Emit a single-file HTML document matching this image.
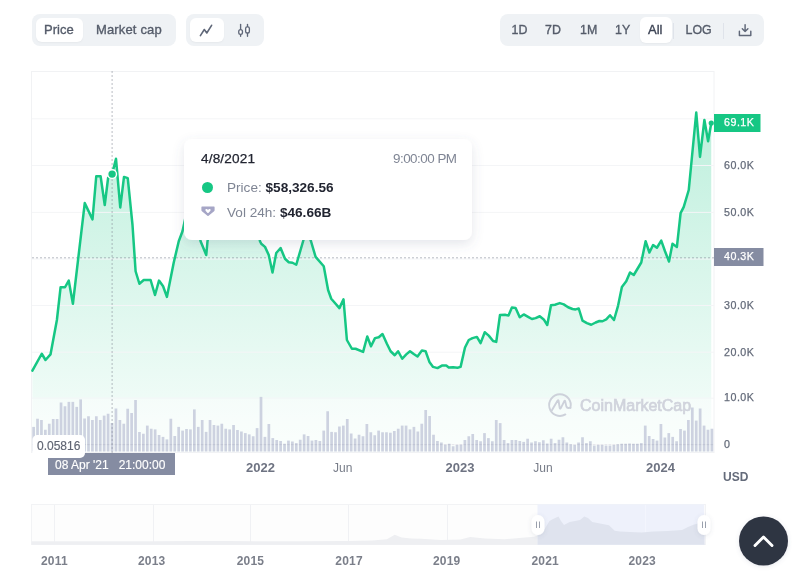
<!DOCTYPE html>
<html><head><meta charset="utf-8">
<style>
*{box-sizing:border-box;margin:0;padding:0}
html,body{width:800px;height:585px;overflow:hidden;background:#fff}
body{position:relative;font-family:"Liberation Sans",Arial,sans-serif;color:#58667e}
.abs{position:absolute}
.grp{position:absolute;top:14px;height:32px;background:#eff2f5;border-radius:8px}
.pill{position:absolute;top:3.5px;height:25px;background:#fff;border-radius:6px;box-shadow:0 1px 2px rgba(0,0,0,0.04)}
.bt{position:absolute;top:0;height:32px;line-height:32px;font-size:13px;font-weight:400;-webkit-text-stroke:0.35px currentColor;color:#555c6a;white-space:nowrap}
.sep{position:absolute;top:9px;width:1px;height:16px;background:#dfe3ea}
.yl{position:absolute;left:724px;font-size:10.7px;line-height:12px;color:#646b7a;letter-spacing:0.5px;-webkit-text-stroke:0.25px currentColor;white-space:nowrap}
.xl{position:absolute;top:460.5px;font-size:12px;line-height:14px;color:#6e7382;white-space:nowrap}
.xb{font-weight:700;font-size:13px}
.nl{position:absolute;top:554px;font-size:12px;line-height:14px;font-weight:700;color:#7b7f8a;letter-spacing:0.2px;white-space:nowrap}
svg{position:absolute;left:0;top:0}
</style></head><body>
<svg width="800" height="585" viewBox="0 0 800 585">
 <defs>
  <linearGradient id="gf" x1="0" y1="112" x2="0" y2="452" gradientUnits="userSpaceOnUse">
   <stop offset="0" stop-color="#16c784" stop-opacity="0.28"/>
   <stop offset="1" stop-color="#16c784" stop-opacity="0.03"/>
  </linearGradient>
  <filter id="sh" x="-20%" y="-30%" width="140%" height="170%">
   <feDropShadow dx="0" dy="4" stdDeviation="6" flood-color="#58667e" flood-opacity="0.16"/>
  </filter>
  <filter id="sh2" x="-30%" y="-30%" width="160%" height="160%">
   <feDropShadow dx="0" dy="1" stdDeviation="2" flood-color="#58667e" flood-opacity="0.15"/>
  </filter>
 </defs>
 <!-- chart frame -->
 <rect x="31.5" y="71.5" width="682.5" height="381" fill="#fff" stroke="#f1f2f4" stroke-width="1"/>
 <!-- fill -->
 <path d="M32.4,370.6 L41.75,353.75 L45.5,360 L50.5,354.4 L56.9,320 L60.6,287.25 L65,287.25 L68.75,280.6 L72.9,303.75 L84.75,203.1 L92.5,219.4 L96.25,176.25 L100.6,176.25 L104.75,205 L108.1,178 L112.1,174.1 L116,158.75 L120.25,207.5 L124,176.9 L127.75,178.1 L132.5,225 L135.6,271.25 L139.4,283.75 L143.75,280 L150.6,280 L155,295 L159,280.6 L163.1,286.25 L166.9,296.9 L173.75,262.5 L178.75,241.25 L182.5,231.25 L186,215 L190,205 L195,210 L200.6,241.25 L206.25,255 L207.5,241.25 L212,220 L220,200 L228,180 L236,170 L244,190 L252,215 L258,232 L260,241.25 L261.25,243.75 L265,246.9 L268.75,255 L272.5,272.5 L276.25,253 L280.6,248 L285,258.75 L288.75,262.25 L292.5,262.75 L296.25,264.75 L303.1,241.25 L306,232 L309,235 L311,241.25 L315.6,256.9 L323.75,266.25 L328.1,290 L331.25,298.75 L339.4,308.1 L343.5,299.4 L346.9,340 L351.9,348.75 L355.6,348.75 L363.1,351.9 L367.25,336.5 L371,346.25 L375,338.1 L378.75,337.25 L382.5,334 L386.9,343.75 L390.6,351.25 L394.75,355.25 L398.1,351.25 L402.25,358.75 L406.25,354.4 L410,351.25 L413.75,354 L417.5,356.5 L421.9,350.6 L425.6,351.25 L429.4,361.9 L433.1,366.9 L437.5,368.1 L441.9,365.6 L446.25,365.6 L448.75,367.5 L453.1,367.25 L457.5,367.75 L460.6,366.9 L465,347.5 L468.75,340 L472.5,338.1 L476.9,336.9 L480.6,343.1 L484.75,332.25 L488.75,335.6 L493.1,341 L496.25,341.9 L500,315 L505,314.75 L508.5,315.6 L511.9,307.5 L515.6,308.1 L519.75,317.25 L523.75,314.4 L528.1,316.9 L531.9,319 L535.6,318.1 L539.75,316.25 L543.75,319.4 L547.25,325 L551,305.25 L555,304.75 L559.75,303.1 L563.75,304.4 L568.1,307.25 L572.5,309 L575.6,309.4 L578.75,308.5 L582.5,320.6 L586.9,323.1 L591.25,324.75 L595.6,322.5 L599.4,321 L602.5,321.25 L606.25,319.4 L610,315.25 L614,320 L618.1,305.6 L621.9,286.9 L626.25,281.25 L630,272.5 L633.75,275 L637.5,268.75 L641.25,262.5 L645.6,241.25 L649.4,252.5 L653.1,245 L656.9,247.75 L661.25,240.6 L665,251.25 L669,261.5 L672.5,243.75 L676.9,246.9 L680.6,213.1 L683.75,206.9 L688.75,190 L696.25,112.5 L700,156.9 L704.4,120 L708.1,141.25 L711.25,123.1 L711.25,451.5 L32.4,451.5 Z" fill="url(#gf)"/>
 <!-- grid -->
 <g stroke="#f4f5f7" stroke-width="1"><line x1="32" x2="714" y1="118.8" y2="118.8"/><line x1="32" x2="714" y1="165.5" y2="165.5"/><line x1="32" x2="714" y1="212.4" y2="212.4"/><line x1="32" x2="714" y1="259" y2="259"/><line x1="32" x2="714" y1="305.5" y2="305.5"/><line x1="32" x2="714" y1="352.2" y2="352.2"/><line x1="32" x2="714" y1="398.2" y2="398.2"/><line x1="32" x2="714" y1="444.6" y2="444.6"/></g>
 <rect x="32" y="398.7" width="681" height="52.8" fill="#fff" fill-opacity="0.4"/>
 <!-- volume bars -->
 <g fill="#c8cddd" fill-opacity="0.9"><rect x="32.25" y="426.9" width="2.7" height="24.6"/><rect x="36.17" y="418.75" width="2.7" height="32.75"/><rect x="40.09" y="420" width="2.7" height="31.5"/><rect x="44.01" y="429.75" width="2.7" height="21.75"/><rect x="47.93" y="423.75" width="2.7" height="27.75"/><rect x="51.85" y="419" width="2.7" height="32.5"/><rect x="55.77" y="419" width="2.7" height="32.5"/><rect x="59.7" y="402.5" width="2.7" height="49"/><rect x="63.62" y="406.25" width="2.7" height="45.25"/><rect x="67.54" y="401.9" width="2.7" height="49.6"/><rect x="71.46" y="401.9" width="2.7" height="49.6"/><rect x="75.38" y="406.9" width="2.7" height="44.6"/><rect x="79.3" y="399.4" width="2.7" height="52.1"/><rect x="83.22" y="418.5" width="2.7" height="33"/><rect x="87.14" y="416.25" width="2.7" height="35.25"/><rect x="91.06" y="420" width="2.7" height="31.5"/><rect x="94.98" y="416.25" width="2.7" height="35.25"/><rect x="98.9" y="420" width="2.7" height="31.5"/><rect x="102.82" y="415.6" width="2.7" height="35.9"/><rect x="106.75" y="413.75" width="2.7" height="37.75"/><rect x="110.67" y="423" width="2.7" height="28.5"/><rect x="114.59" y="408.5" width="2.7" height="43"/><rect x="118.51" y="420" width="2.7" height="31.5"/><rect x="122.43" y="423.75" width="2.7" height="27.75"/><rect x="126.35" y="408.75" width="2.7" height="42.75"/><rect x="130.27" y="413" width="2.7" height="38.5"/><rect x="134.19" y="400" width="2.7" height="51.5"/><rect x="138.11" y="432" width="2.7" height="19.5"/><rect x="142.03" y="433.75" width="2.7" height="17.75"/><rect x="145.95" y="425.6" width="2.7" height="25.9"/><rect x="149.87" y="428.75" width="2.7" height="22.75"/><rect x="153.8" y="429.4" width="2.7" height="22.1"/><rect x="157.72" y="435" width="2.7" height="16.5"/><rect x="161.64" y="436.9" width="2.7" height="14.6"/><rect x="165.56" y="439.4" width="2.7" height="12.1"/><rect x="169.48" y="418.75" width="2.7" height="32.75"/><rect x="173.4" y="436" width="2.7" height="15.5"/><rect x="177.32" y="426.9" width="2.7" height="24.6"/><rect x="181.24" y="430.6" width="2.7" height="20.9"/><rect x="185.16" y="429" width="2.7" height="22.5"/><rect x="189.08" y="429.4" width="2.7" height="22.1"/><rect x="193" y="409.4" width="2.7" height="42.1"/><rect x="196.92" y="426.9" width="2.7" height="24.6"/><rect x="200.84" y="420" width="2.7" height="31.5"/><rect x="204.77" y="431.9" width="2.7" height="19.6"/><rect x="208.69" y="420" width="2.7" height="31.5"/><rect x="212.61" y="425" width="2.7" height="26.5"/><rect x="216.53" y="425.6" width="2.7" height="25.9"/><rect x="220.45" y="423.75" width="2.7" height="27.75"/><rect x="224.37" y="428.75" width="2.7" height="22.75"/><rect x="228.29" y="429.4" width="2.7" height="22.1"/><rect x="232.21" y="425" width="2.7" height="26.5"/><rect x="236.13" y="430" width="2.7" height="21.5"/><rect x="240.05" y="431.5" width="2.7" height="20"/><rect x="243.97" y="433.1" width="2.7" height="18.4"/><rect x="247.89" y="434.4" width="2.7" height="17.1"/><rect x="251.82" y="436.25" width="2.7" height="15.25"/><rect x="255.74" y="428.1" width="2.7" height="23.4"/><rect x="259.66" y="396.9" width="2.7" height="54.6"/><rect x="263.58" y="436.9" width="2.7" height="14.6"/><rect x="267.5" y="424" width="2.7" height="27.5"/><rect x="271.42" y="438.1" width="2.7" height="13.4"/><rect x="275.34" y="440" width="2.7" height="11.5"/><rect x="279.26" y="441" width="2.7" height="10.5"/><rect x="283.18" y="443.75" width="2.7" height="7.75"/><rect x="287.1" y="440.6" width="2.7" height="10.9"/><rect x="291.02" y="441.5" width="2.7" height="10"/><rect x="294.94" y="443.1" width="2.7" height="8.4"/><rect x="298.87" y="439.75" width="2.7" height="11.75"/><rect x="302.79" y="434.4" width="2.7" height="17.1"/><rect x="306.71" y="436" width="2.7" height="15.5"/><rect x="310.63" y="440.6" width="2.7" height="10.9"/><rect x="314.55" y="440" width="2.7" height="11.5"/><rect x="318.47" y="441" width="2.7" height="10.5"/><rect x="322.39" y="430.6" width="2.7" height="20.9"/><rect x="326.31" y="411.25" width="2.7" height="40.25"/><rect x="330.23" y="431.9" width="2.7" height="19.6"/><rect x="334.15" y="432.25" width="2.7" height="19.25"/><rect x="338.07" y="426.5" width="2.7" height="25"/><rect x="341.99" y="425.6" width="2.7" height="25.9"/><rect x="345.91" y="419" width="2.7" height="32.5"/><rect x="349.84" y="433.5" width="2.7" height="18"/><rect x="353.76" y="438.5" width="2.7" height="13"/><rect x="357.68" y="434.75" width="2.7" height="16.75"/><rect x="361.6" y="436.25" width="2.7" height="15.25"/><rect x="365.52" y="424" width="2.7" height="27.5"/><rect x="369.44" y="432.25" width="2.7" height="19.25"/><rect x="373.36" y="435.25" width="2.7" height="16.25"/><rect x="377.28" y="430.6" width="2.7" height="20.9"/><rect x="381.2" y="432.25" width="2.7" height="19.25"/><rect x="385.12" y="432.25" width="2.7" height="19.25"/><rect x="389.04" y="432.75" width="2.7" height="18.75"/><rect x="392.96" y="431" width="2.7" height="20.5"/><rect x="396.89" y="428.75" width="2.7" height="22.75"/><rect x="400.81" y="425.6" width="2.7" height="25.9"/><rect x="404.73" y="425.6" width="2.7" height="25.9"/><rect x="408.65" y="429.4" width="2.7" height="22.1"/><rect x="412.57" y="426.9" width="2.7" height="24.6"/><rect x="416.49" y="431.5" width="2.7" height="20"/><rect x="420.41" y="423.75" width="2.7" height="27.75"/><rect x="424.33" y="410" width="2.7" height="41.5"/><rect x="428.25" y="416" width="2.7" height="35.5"/><rect x="432.17" y="434.75" width="2.7" height="16.75"/><rect x="436.09" y="441" width="2.7" height="10.5"/><rect x="440.01" y="442.5" width="2.7" height="9"/><rect x="443.93" y="444.75" width="2.7" height="6.75"/><rect x="447.86" y="443.75" width="2.7" height="7.75"/><rect x="451.78" y="446.25" width="2.7" height="5.25"/><rect x="455.7" y="445" width="2.7" height="6.5"/><rect x="459.62" y="444.75" width="2.7" height="6.75"/><rect x="463.54" y="440" width="2.7" height="11.5"/><rect x="467.46" y="436.25" width="2.7" height="15.25"/><rect x="471.38" y="434" width="2.7" height="17.5"/><rect x="475.3" y="440" width="2.7" height="11.5"/><rect x="479.22" y="441.25" width="2.7" height="10.25"/><rect x="483.14" y="433.1" width="2.7" height="18.4"/><rect x="487.06" y="438.1" width="2.7" height="13.4"/><rect x="490.98" y="441.25" width="2.7" height="10.25"/><rect x="494.91" y="420" width="2.7" height="31.5"/><rect x="498.83" y="423.1" width="2.7" height="28.4"/><rect x="502.75" y="440" width="2.7" height="11.5"/><rect x="506.67" y="443.1" width="2.7" height="8.4"/><rect x="510.59" y="440" width="2.7" height="11.5"/><rect x="514.51" y="440" width="2.7" height="11.5"/><rect x="518.43" y="441" width="2.7" height="10.5"/><rect x="522.35" y="441.9" width="2.7" height="9.6"/><rect x="526.27" y="438.75" width="2.7" height="12.75"/><rect x="530.19" y="442.5" width="2.7" height="9"/><rect x="534.11" y="441.25" width="2.7" height="10.25"/><rect x="538.03" y="442.25" width="2.7" height="9.25"/><rect x="541.96" y="440.25" width="2.7" height="11.25"/><rect x="545.88" y="443.5" width="2.7" height="8"/><rect x="549.8" y="438.75" width="2.7" height="12.75"/><rect x="553.72" y="443.1" width="2.7" height="8.4"/><rect x="557.64" y="439.75" width="2.7" height="11.75"/><rect x="561.56" y="437.25" width="2.7" height="14.25"/><rect x="565.48" y="442.5" width="2.7" height="9"/><rect x="569.4" y="444.4" width="2.7" height="7.1"/><rect x="573.32" y="445" width="2.7" height="6.5"/><rect x="577.24" y="442.5" width="2.7" height="9"/><rect x="581.16" y="437.25" width="2.7" height="14.25"/><rect x="585.08" y="443.1" width="2.7" height="8.4"/><rect x="589" y="441.25" width="2.7" height="10.25"/><rect x="592.93" y="445.6" width="2.7" height="5.9"/><rect x="596.85" y="445" width="2.7" height="6.5"/><rect x="600.77" y="445" width="2.7" height="6.5"/><rect x="604.69" y="445.6" width="2.7" height="5.9"/><rect x="608.61" y="445.6" width="2.7" height="5.9"/><rect x="612.53" y="445" width="2.7" height="6.5"/><rect x="616.45" y="444.4" width="2.7" height="7.1"/><rect x="620.37" y="443.75" width="2.7" height="7.75"/><rect x="624.29" y="443.75" width="2.7" height="7.75"/><rect x="628.21" y="443.5" width="2.7" height="8"/><rect x="632.13" y="443.75" width="2.7" height="7.75"/><rect x="636.05" y="443.75" width="2.7" height="7.75"/><rect x="639.98" y="443.1" width="2.7" height="8.4"/><rect x="643.9" y="425.6" width="2.7" height="25.9"/><rect x="647.82" y="436" width="2.7" height="15.5"/><rect x="651.74" y="439" width="2.7" height="12.5"/><rect x="655.66" y="440.6" width="2.7" height="10.9"/><rect x="659.58" y="424" width="2.7" height="27.5"/><rect x="663.5" y="437.5" width="2.7" height="14"/><rect x="667.42" y="433.1" width="2.7" height="18.4"/><rect x="671.34" y="436.9" width="2.7" height="14.6"/><rect x="675.26" y="441.25" width="2.7" height="10.25"/><rect x="679.18" y="429" width="2.7" height="22.5"/><rect x="683.1" y="430.6" width="2.7" height="20.9"/><rect x="687.03" y="420" width="2.7" height="31.5"/><rect x="690.95" y="407.5" width="2.7" height="44"/><rect x="694.87" y="420.6" width="2.7" height="30.9"/><rect x="698.79" y="408.5" width="2.7" height="43"/><rect x="702.71" y="425.6" width="2.7" height="25.9"/><rect x="706.63" y="429.75" width="2.7" height="21.75"/><rect x="710.55" y="428.75" width="2.7" height="22.75"/></g>
 <line x1="32.25" x2="713" y1="444.6" y2="444.6" stroke="#646e82" stroke-opacity="0.12" stroke-width="1" stroke-dasharray="2.7 1.22"/>
 <!-- crosshair -->
 <line x1="112.1" x2="112.1" y1="71" y2="456" stroke="#7d8591" stroke-opacity="0.55" stroke-width="1" stroke-dasharray="2 2"/>
 <line x1="32" x2="714" y1="257.8" y2="257.8" stroke="#7d8591" stroke-opacity="0.55" stroke-width="1" stroke-dasharray="2 2"/>
 <!-- price line -->
 <path d="M32.4,370.6 L41.75,353.75 L45.5,360 L50.5,354.4 L56.9,320 L60.6,287.25 L65,287.25 L68.75,280.6 L72.9,303.75 L84.75,203.1 L92.5,219.4 L96.25,176.25 L100.6,176.25 L104.75,205 L108.1,178 L112.1,174.1 L116,158.75 L120.25,207.5 L124,176.9 L127.75,178.1 L132.5,225 L135.6,271.25 L139.4,283.75 L143.75,280 L150.6,280 L155,295 L159,280.6 L163.1,286.25 L166.9,296.9 L173.75,262.5 L178.75,241.25 L182.5,231.25 L186,215 L190,205 L195,210 L200.6,241.25 L206.25,255 L207.5,241.25 L212,220 L220,200 L228,180 L236,170 L244,190 L252,215 L258,232 L260,241.25 L261.25,243.75 L265,246.9 L268.75,255 L272.5,272.5 L276.25,253 L280.6,248 L285,258.75 L288.75,262.25 L292.5,262.75 L296.25,264.75 L303.1,241.25 L306,232 L309,235 L311,241.25 L315.6,256.9 L323.75,266.25 L328.1,290 L331.25,298.75 L339.4,308.1 L343.5,299.4 L346.9,340 L351.9,348.75 L355.6,348.75 L363.1,351.9 L367.25,336.5 L371,346.25 L375,338.1 L378.75,337.25 L382.5,334 L386.9,343.75 L390.6,351.25 L394.75,355.25 L398.1,351.25 L402.25,358.75 L406.25,354.4 L410,351.25 L413.75,354 L417.5,356.5 L421.9,350.6 L425.6,351.25 L429.4,361.9 L433.1,366.9 L437.5,368.1 L441.9,365.6 L446.25,365.6 L448.75,367.5 L453.1,367.25 L457.5,367.75 L460.6,366.9 L465,347.5 L468.75,340 L472.5,338.1 L476.9,336.9 L480.6,343.1 L484.75,332.25 L488.75,335.6 L493.1,341 L496.25,341.9 L500,315 L505,314.75 L508.5,315.6 L511.9,307.5 L515.6,308.1 L519.75,317.25 L523.75,314.4 L528.1,316.9 L531.9,319 L535.6,318.1 L539.75,316.25 L543.75,319.4 L547.25,325 L551,305.25 L555,304.75 L559.75,303.1 L563.75,304.4 L568.1,307.25 L572.5,309 L575.6,309.4 L578.75,308.5 L582.5,320.6 L586.9,323.1 L591.25,324.75 L595.6,322.5 L599.4,321 L602.5,321.25 L606.25,319.4 L610,315.25 L614,320 L618.1,305.6 L621.9,286.9 L626.25,281.25 L630,272.5 L633.75,275 L637.5,268.75 L641.25,262.5 L645.6,241.25 L649.4,252.5 L653.1,245 L656.9,247.75 L661.25,240.6 L665,251.25 L669,261.5 L672.5,243.75 L676.9,246.9 L680.6,213.1 L683.75,206.9 L688.75,190 L696.25,112.5 L700,156.9 L704.4,120 L708.1,141.25 L711.25,123.1" fill="none" stroke="#16c784" stroke-width="2.5" stroke-linejoin="round" stroke-linecap="round"/>
 <circle cx="711.25" cy="123.1" r="2.6" fill="#16c784"/>
 <circle cx="112.1" cy="174.1" r="4.4" fill="#16c784" stroke="#fff" stroke-width="1.4"/>
 <!-- watermark -->
 <g>
  <path d="M565.4,414.4 A10.8,10.8 0 1 1 570.4,407.8" fill="none" stroke="#cdd1da" stroke-width="1.9" stroke-linecap="round"/>
  <path d="M551.9,410.3 L557.5,400.8 Q558.2,399.7 558.6,400.9 L559.7,408 Q560.1,409.3 560.8,408.1 L564.2,401.3 Q564.8,400.2 565.2,401.4 L566.4,406.6 Q567.1,408.6 569.4,407.9 L570.4,407.8" fill="none" stroke="#cdd1da" stroke-width="1.9" stroke-linejoin="round" stroke-linecap="round"/>
  <text x="580" y="411.4" font-family="Liberation Sans,Arial,sans-serif" font-size="16" font-weight="400" fill="#d0d3dc" stroke="#d0d3dc" stroke-width="0.7">CoinMarketCap</text>
 </g>
 <!-- y labels boxes -->
 <rect x="714" y="114" width="46.5" height="18" fill="#16c784"/>
 <rect x="714" y="248" width="49.5" height="18" fill="#858ca2"/>
 <!-- tooltip -->
 <rect x="184" y="139" width="288" height="101" rx="8" fill="#fff" filter="url(#sh)"/>
 <!-- bottom date label -->
 <rect x="48" y="453" width="127" height="22" fill="#858ca2"/>
 <rect x="32.4" y="435" width="52.6" height="23" rx="5" fill="#fff"/>
 <!-- navigator -->
 <rect x="31.5" y="504.5" width="674" height="40" fill="#fdfdfd" stroke="#f2f3f5"/>
 <g stroke="#f0f1f4" stroke-width="1">
  <line x1="54.5" x2="54.5" y1="505" y2="544"/><line x1="153.5" x2="153.5" y1="505" y2="544"/>
  <line x1="250.5" x2="250.5" y1="505" y2="544"/><line x1="348.5" x2="348.5" y1="505" y2="544"/>
  <line x1="447.5" x2="447.5" y1="505" y2="544"/><line x1="645.5" x2="645.5" y1="505" y2="544"/>
 </g>
 <clipPath id="cl"><rect x="30" y="500" width="507.5" height="50"/></clipPath>
 <clipPath id="cr"><rect x="537.5" y="500" width="170" height="50"/></clipPath>
 <rect x="537.5" y="504.3" width="166.7" height="40.7" fill="#eef1fb"/>
 <path d="M31.65,541.3 L151.7,541.26 L195.8,540.95 L225.2,541.12 L298.7,541.16 L347.7,540.95 L372.2,540.42 L386.9,539.2 L394.74,534.64 L401.6,537.44 L411.4,538.49 L421.2,538.85 L440.8,539.9 L460.4,539.55 L470.2,537.09 L484.9,538.49 L504.5,539.2 L519.2,537.97 L533.9,536.74 L538.8,535.34 L538,531.5 L544,530 L549.5,521 L553,519 L558.5,516.5 L561,521 L564,525 L569.7,522 L575,521 L580,520 L584.3,516.4 L588,518 L592.2,521.9 L600,523.5 L609,525.2 L614.7,530.8 L620,531.5 L630,532 L641.6,532.5 L653.5,531.5 L667.8,531 L682,530 L688,527 L694,524.5 L700,523 L704.6,522 L704.6,544.7 L31.65,544.7 Z" fill="#eeeff2" clip-path="url(#cl)"/>
 <line x1="645.5" x2="645.5" y1="505" y2="544" stroke="#f3f5fd" stroke-width="1"/>
 <path d="M31.65,541.3 L151.7,541.26 L195.8,540.95 L225.2,541.12 L298.7,541.16 L347.7,540.95 L372.2,540.42 L386.9,539.2 L394.74,534.64 L401.6,537.44 L411.4,538.49 L421.2,538.85 L440.8,539.9 L460.4,539.55 L470.2,537.09 L484.9,538.49 L504.5,539.2 L519.2,537.97 L533.9,536.74 L538.8,535.34 L538,531.5 L544,530 L549.5,521 L553,519 L558.5,516.5 L561,521 L564,525 L569.7,522 L575,521 L580,520 L584.3,516.4 L588,518 L592.2,521.9 L600,523.5 L609,525.2 L614.7,530.8 L620,531.5 L630,532 L641.6,532.5 L653.5,531.5 L667.8,531 L682,530 L688,527 L694,524.5 L700,523 L704.6,522 L704.6,544.7 L31.65,544.7 Z" fill="#dfe3ee" clip-path="url(#cr)"/>
 <g filter="url(#sh2)">
  <rect x="531.5" y="515" width="13" height="20" rx="6.5" fill="#fff"/>
  <rect x="697.5" y="515" width="13" height="20" rx="6.5" fill="#fff"/>
 </g>
 <g stroke="#9aa0ad" stroke-width="1">
  <line x1="536.5" x2="536.5" y1="521.5" y2="528"/><line x1="539.5" x2="539.5" y1="521.5" y2="528"/>
  <line x1="702.5" x2="702.5" y1="521.5" y2="528"/><line x1="705.5" x2="705.5" y1="521.5" y2="528"/>
 </g>
 <!-- scroll top -->
 <circle cx="763.5" cy="541" r="24.5" fill="#2f3443" filter="url(#sh2)"/>
 <path d="M755,545.5 L763.5,537 L772,545.5" fill="none" stroke="#fff" stroke-width="2.9" stroke-linecap="round" stroke-linejoin="round"/>
</svg>

<!-- toolbar group 1 -->
<div class="grp" style="left:32px;width:144px">
 <div class="pill" style="left:4px;top:3.8px;height:24px;width:46.5px"></div>
 <div class="bt" style="left:12px">Price</div>
 <div class="bt" style="left:64px;letter-spacing:0.15px">Market cap</div>
</div>
<div class="grp" style="left:186px;width:78px">
 <div class="pill" style="left:4px;top:3.8px;height:24px;width:34px"></div>
 <svg class="abs" style="left:0;top:0" width="78" height="32" viewBox="186 14 78 32">
  <path d="M200.4,35.6 L204.3,29.5 L206.8,33 L211.6,25.3" fill="none" stroke="#5f6778" stroke-width="1.6" stroke-linecap="round" stroke-linejoin="round"/>
  <g fill="none" stroke="#5f6778" stroke-width="1.35" stroke-linecap="round">
   <line x1="240.6" x2="240.6" y1="24.4" y2="36.3"/>
   <rect x="238.75" y="29.6" width="3.7" height="4.7" rx="1.85" fill="#fff"/>
   <line x1="247.5" x2="247.5" y1="24.4" y2="36.3"/>
   <rect x="245.65" y="26.9" width="3.7" height="6.1" rx="1.5" fill="#fff"/>
  </g>
 </svg>
</div>
<div class="grp" style="left:499.5px;width:264px">
 <div class="pill" style="left:140px;top:3px;height:26px;width:32px"></div>
 <div class="bt" style="left:12px;font-size:12.4px">1D</div>
 <div class="bt" style="left:45.5px;font-size:12.4px">7D</div>
 <div class="bt" style="left:80.5px;font-size:12.4px">1M</div>
 <div class="bt" style="left:115.5px;font-size:12.4px">1Y</div>
 <div class="bt" style="left:148.5px;color:#3d4455">All</div>
 <div class="sep" style="left:173.5px"></div>
 <div class="bt" style="left:186px;font-size:12.4px">LOG</div>
 <div class="sep" style="left:223.5px"></div>
 <svg class="abs" style="left:0;top:0" width="264" height="32" viewBox="499.5 14 264 32">
  <g fill="none" stroke="#5f6778" stroke-width="1.45" stroke-linecap="round" stroke-linejoin="round">
   <path d="M744.6,24.6 L744.6,31.4 M741.8,28.7 L744.6,31.4 L747.4,28.7"/>
   <path d="M738.9,31.2 L738.9,35.4 L750.3,35.4 L750.3,31.2"/>
  </g>
 </svg>
</div>

<!-- tooltip text -->
<div class="abs" style="left:201px;top:150.5px;font-size:13.6px;line-height:16px;color:#222531;-webkit-text-stroke:0.25px currentColor;letter-spacing:0.15px">4/8/2021</div>
<div class="abs" style="left:393px;top:150.5px;font-size:13.4px;line-height:16px;color:#7f8594;letter-spacing:-0.5px;white-space:nowrap">9:00:00 PM</div>
<div class="abs" style="left:202px;top:181.5px;width:11px;height:11px;border-radius:50%;background:#16c784"></div>
<svg class="abs" style="left:200.5px;top:205.5px" width="14" height="11" viewBox="0 0 14 11">
 <path d="M1,0.5 H13 Q13.6,0.5 13.6,1.2 V4.2 Q13.6,4.8 13.1,5.2 L7.6,9.8 Q7,10.3 6.4,9.8 L0.9,5.2 Q0.4,4.8 0.4,4.2 V1.2 Q0.4,0.5 1,0.5 Z" fill="#a6a6c6"/>
 <path d="M4.4,3.9 C4.4,2.7 6.2,2.6 7,3.9 C7.8,2.6 9.6,2.7 9.6,3.9 C9.6,5.2 7,7.1 7,7.1 C7,7.1 4.4,5.2 4.4,3.9 Z" fill="#fff"/>
</svg>
<div class="abs" style="left:227px;top:179.5px;font-size:13.6px;line-height:16px;color:#7f8594;white-space:nowrap">Price: <b style="color:#222531">$58,326.56</b></div>
<div class="abs" style="left:227px;top:204.5px;font-size:13.6px;line-height:16px;color:#7f8594;white-space:nowrap">Vol 24h: <b style="color:#222531">$46.66B</b></div>

<!-- y axis labels -->
<div class="yl" style="top:116.4px;color:#fff">69.1K</div>
<div class="yl" style="top:158.9px">60.0K</div>
<div class="yl" style="top:205.7px">50.0K</div>
<div class="yl" style="top:250.4px;color:#fff">40.3K</div>
<div class="yl" style="top:298.9px">30.0K</div>
<div class="yl" style="top:345.6px">20.0K</div>
<div class="yl" style="top:391.4px">10.0K</div>
<div class="yl" style="top:438.0px">0</div>
<div class="yl" style="top:470.6px;font-size:12px;font-weight:700;left:723px;letter-spacing:0;-webkit-text-stroke:0">USD</div>

<!-- x axis labels -->
<div class="xl xb" style="left:246px">2022</div>
<div class="xl" style="left:333px;color:#777c88">Jun</div>
<div class="xl xb" style="left:445.6px">2023</div>
<div class="xl" style="left:533.3px;color:#777c88">Jun</div>
<div class="xl xb" style="left:646px">2024</div>

<!-- crosshair labels -->
<div class="abs" style="left:37px;top:439px;font-size:12px;line-height:14px;color:#5f6472;-webkit-text-stroke:0.15px currentColor">0.05816</div>
<div class="abs" style="left:55px;top:458px;font-size:12px;line-height:14px;color:#fff;-webkit-text-stroke:0.15px currentColor;white-space:nowrap">08 Apr '21<span style="margin-left:10px">21:00:00</span></div>

<!-- navigator labels -->
<div class="nl" style="left:41px">2011</div>
<div class="nl" style="left:138px">2013</div>
<div class="nl" style="left:236.7px">2015</div>
<div class="nl" style="left:335.3px">2017</div>
<div class="nl" style="left:433px">2019</div>
<div class="nl" style="left:531.5px">2021</div>
<div class="nl" style="left:628.5px">2023</div>
</body></html>
